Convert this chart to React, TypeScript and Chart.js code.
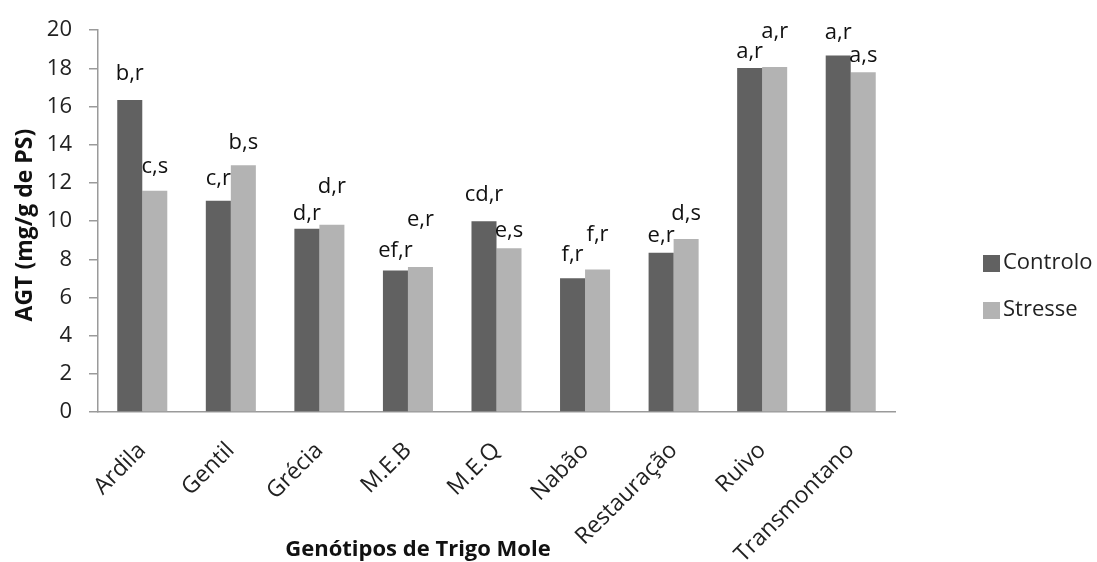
import React, { useEffect, useRef } from "react";
import { Chart, registerables } from "chart.js";

Chart.register(...registerables);

// ---- data ----
const categories = ["Ardila", "Gentil", "Grécia", "M.E.B", "M.E.Q", "Nabão", "Restauração", "Ruivo", "Transmontano"];
const controlo = [16.34, 11.07, 9.6, 7.41, 9.99, 7.01, 8.34, 18.02, 18.67];
const stresse = [11.59, 12.92, 9.81, 7.6, 8.58, 7.46, 9.06, 18.07, 17.8];
const controloLetters = ["b,r", "c,r", "d,r", "ef,r", "cd,r", "f,r", "e,r", "a,r", "a,r"];
const stresseLetters = ["c,s", "b,s", "d,r", "e,r", "e,s", "f,r", "d,s", "a,r", "a,s"];
const yMin = 0;
const yMax = 20;
const yStep = 2;
const seriesNames = ["Controlo", "Stresse"];

// ---- label placement (pixels above bar top) ----
const controloLift = [26, 22, 15, 20, 27, 23, 17, 16, 23];
const stresseLift = [24, 23, 38, 47, 17, 35, 25, 35, 16];

const DARK = "#616161";
const LIGHT = "#b3b3b3";
const AXIS = "#9a9a9a";
const FONT = "'Open Sans', 'Noto Sans', sans-serif";

const labelPlugin = {
  id: "barLetters",
  afterDatasetsDraw(chart: any) {
    const ctx = chart.ctx;
    ctx.save();
    ctx.font = `22px ${FONT}`;
    ctx.fillStyle = "#111";
    ctx.textAlign = "center";
    ctx.textBaseline = "middle";
    const sets = [
      { letters: controloLetters, lift: controloLift },
      { letters: stresseLetters, lift: stresseLift },
    ];
    sets.forEach((s, di) => {
      const meta = chart.getDatasetMeta(di);
      meta.data.forEach((el: any, i: number) => {
        ctx.fillText(s.letters[i], el.x, el.y - s.lift[i]);
      });
    });
    ctx.restore();
  },
};

const decorPlugin = {
  id: "decor",
  afterDraw(chart: any) {
    const ctx = chart.ctx;
    const area = chart.chartArea;
    ctx.save();
    // y title
    ctx.font = `bold 23px ${FONT}`;
    ctx.fillStyle = "#111";
    ctx.textAlign = "center";
    ctx.textBaseline = "middle";
    ctx.save();
    ctx.translate(25, (area.top + area.bottom) / 2 + 4);
    ctx.rotate(-Math.PI / 2);
    ctx.fillText("AGT (mg/g de PS)", 0, 0);
    ctx.restore();
    // x title
    ctx.font = `bold 22px ${FONT}`;
    ctx.fillText("Genótipos de Trigo Mole", 418, 550);
    // legend
    const colors = [DARK, LIGHT];
    const ys = [263, 310];
    ctx.font = `22px ${FONT}`;
    ctx.textAlign = "left";
    seriesNames.forEach((n, i) => {
      ctx.fillStyle = colors[i];
      ctx.fillRect(983, ys[i] - 8, 17, 17);
      ctx.fillStyle = "#222";
      ctx.fillText(n, 1003, ys[i]);
    });
    ctx.restore();
  },
};

export default function App() {
  const ref = useRef<HTMLCanvasElement | null>(null);
  useEffect(() => {
    if (!ref.current) return;
    const chart = new Chart(ref.current, {
      type: "bar",
      data: {
        labels: categories,
        datasets: [
          { label: seriesNames[0], data: controlo, backgroundColor: DARK, borderWidth: 0 },
          { label: seriesNames[1], data: stresse, backgroundColor: LIGHT, borderWidth: 0 },
        ],
      },
      options: {
        animation: false,
        responsive: false,
        devicePixelRatio: 1,
        layout: { padding: { top: 25, right: 202, left: 0, bottom: 0 } },
        datasets: { bar: { categoryPercentage: 0.565, barPercentage: 1 } },
        plugins: { legend: { display: false }, tooltip: { enabled: false }, title: { display: false } },
        scales: {
          x: {
            grid: { display: false },
            border: { display: true, color: AXIS, width: 1.5 },
            ticks: {
              minRotation: 45,
              maxRotation: 45,
              autoSkip: false,
              padding: 17,
              color: "#222",
              font: { family: FONT, size: 23 },
            },
            afterFit(scale: any) {
              scale.height = 150;
            },
          },
          y: {
            min: yMin,
            max: yMax,
            ticks: {
              stepSize: yStep,
              padding: 17,
              color: "#222",
              font: { family: FONT, size: 22 },
            },
            grid: { drawOnChartArea: false, drawTicks: true, tickLength: 9, color: AXIS, lineWidth: 1.5 },
            border: { display: true, color: AXIS, width: 1.5 },
            afterFit(scale: any) {
              scale.width = 98;
            },
          },
        },
      },
      plugins: [labelPlugin, decorPlugin],
    });
    return () => chart.destroy();
  }, []);
  return (
    <div style={{ position: "fixed", left: 0, top: 0, width: 1097, height: 562, background: "#fff" }}>
      <canvas ref={ref} width={1097} height={562} style={{ display: "block" }} />
    </div>
  );
}
